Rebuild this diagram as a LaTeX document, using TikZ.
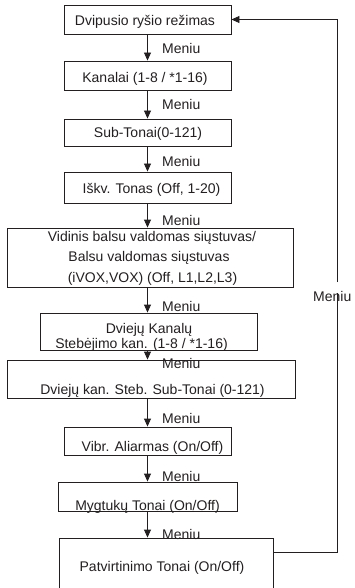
\documentclass[tikz,border=0pt]{standalone}
\usepackage{fontspec}
\setmainfont{Liberation Sans}
\usetikzlibrary{arrows.meta}
\definecolor{ink}{RGB}{35,31,32}
\begin{document}
\begin{tikzpicture}[x=1pt,y=-1pt,
  box/.style={draw=ink,line width=0.9pt,inner sep=0pt},
  txt/.style={text=ink,inner sep=0pt,anchor=base,font=\fontsize{14}{15}\selectfont},
  menu/.style={text=ink,inner sep=0pt,anchor=base west,font=\fontsize{14}{15}\selectfont},
  arr/.style={draw=ink,line width=0.9pt,-{Triangle[length=8pt,width=7pt]}},
  loopl/.style={draw=ink,line width=0.9pt}]
\useasboundingbox (0,0) rectangle (354,588);
% boxes
\node[box,minimum width=167pt,minimum height=29pt] (b1) at (147.5,19.5) {};
\node[box,minimum width=167pt,minimum height=29pt] (b2) at (147.5,75.5) {};
\node[box,minimum width=167pt,minimum height=27pt] (b3) at (147.5,132.5) {};
\node[box,minimum width=167pt,minimum height=31pt] (b4) at (147.5,187.5) {};
\node[box,minimum width=286pt,minimum height=59pt] (b5) at (150,257.5) {};
\node[box,minimum width=217pt,minimum height=37pt] (b6) at (148.5,331.5) {};
\node[box,minimum width=288pt,minimum height=38pt] (b7) at (151,379) {};
\node[box,minimum width=167pt,minimum height=28pt] (b8) at (147.5,441) {};
\node[box,minimum width=179pt,minimum height=29pt] (b9) at (147.5,496.5) {};
\node[box,minimum width=214pt,minimum height=62pt] (b10) at (166,569) {};
% texts
\node[txt] (t1) at (145,26) {Dvipusio ryšio režimas};
\node[txt] (t2) at (145,83) {Kanalai (1-8 / *1-16)};
\node[txt] (t3) at (148,138) {Sub-Tonai(0-121)};
\node[txt] (t4) at (151.5,193) {Iškv. Tonas (Off, 1-20)};
\node[txt] (t5a) at (152,241) {Vidinis balsu valdomas siųstuvas/};
\node[txt] (t5b) at (149,261.5) {Balsu valdomas siųstuvas};
\node[txt] (t5c) at (152.5,282) {(iVOX,VOX) (Off, L1,L2,L3)};
\node[txt] (t6a) at (149,333) {Dviejų Kanalų};
\node[txt] (t6b) at (141.5,348) {Stebėjimo kan. (1-8 / *1-16)};
\node[txt] (t7) at (152.5,394) {Dviejų kan. Steb. Sub-Tonai (0-121)};
\node[txt] (t8) at (152.5,451.5) {Vibr. Aliarmas (On/Off)};
\node[txt] (t9) at (147.5,510) {Mygtukų Tonai (On/Off)};
\node[txt] (t10) at (162,571.5) {Patvirtinimo Tonai (On/Off)};
% arrows
\draw[arr] (b1.south) -- (b2.north);
\draw[arr] (b2.south) -- (b3.north);
\draw[arr] (b3.south) -- (b4.north);
\draw[arr] (b4.south) -- (b5.north -| b1.south);
\draw[arr] (b5.south -| b1.south) -- (b6.north -| b1.south);
\draw[arr] (b6.south -| b1.south) -- (b7.north -| b1.south);
\draw[arr] (b7.south -| b1.south) -- (b8.north);
\draw[arr] (b8.south) -- (b9.north);
\draw[arr] (b9.south) -- (b10.north -| b1.south);
% Meniu labels
\node[menu] (m1) at (162,53.5) {Meniu};
\node[menu] (m2) at (162,109.3) {Meniu};
\node[menu] (m3) at (162,166.7) {Meniu};
\node[menu] (m4) at (162,225) {Meniu};
\node[menu] (m5) at (162,311) {Meniu};
\node[menu] (m6) at (162,368.3) {Meniu};
\node[menu] (m7) at (162,423.3) {Meniu};
\node[menu] (m8) at (162,481.7) {Meniu};
\node[menu] (m9) at (162,539) {Meniu};
\node[menu] (mr) at (313,301.7) {Meniu};
% loop back
\coordinate (lb) at (337,552);
\coordinate (g2) at (337,293);
\coordinate (g1) at (337,282);
\coordinate (lt) at (337,19.5);
\draw[loopl] (lb -| b10.east) -- (lb) -- (g2);
\draw[arr] (g1) -- (lt) -- (b1.east);
\end{tikzpicture}
\end{document}
